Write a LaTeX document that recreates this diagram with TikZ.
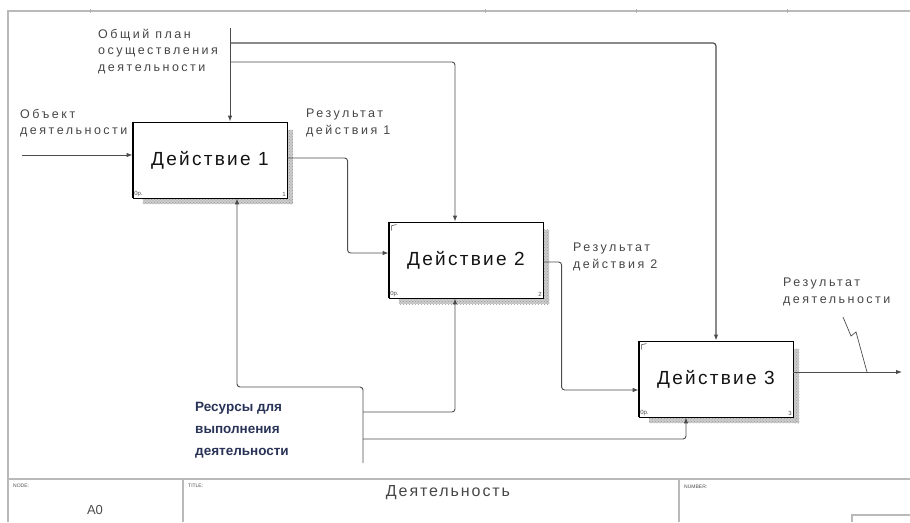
\documentclass[tikz,border=0pt]{standalone}
\usepackage{fontspec}
\setmainfont{Liberation Sans}
\newfontfamily\lblfont[LetterSpace=20]{Liberation Sans}
\newfontfamily\boxfont[LetterSpace=12]{Liberation Sans}
\newfontfamily\ttlfont[LetterSpace=12]{Liberation Sans}
\usetikzlibrary{arrows.meta,patterns,calc}
\definecolor{mechink}{rgb}{0.16,0.2,0.34}

\begin{document}
\begin{tikzpicture}[x=1pt,y=-1pt,
  frame/.style={draw=gray!55,line width=1.3pt},
  act/.style={draw=black,line width=0.8pt,fill=white,minimum width=154pt,minimum height=76pt,
    inner sep=0pt,font=\boxfont\fontsize{19}{21}\selectfont,text=gray!15!black},
  conn/.style={draw=gray!60!black,line width=0.9pt,rounded corners=3pt},
  arr/.style={conn,-{Latex[length=6pt,width=4.5pt]}},
  lbl/.style={font=\lblfont\fontsize{12.5}{16.5}\selectfont,text=gray!55!black,align=left,inner sep=0pt,anchor=north west},
  mech/.style={font=\bfseries\fontsize{13.5}{22}\selectfont,text=mechink,align=left,inner sep=0pt,anchor=north west},
  corner/.style={font=\fontsize{6}{7}\selectfont,text=gray!60!black,inner sep=1.5pt},
  foot/.style={font=\fontsize{5}{6}\selectfont,text=gray!60!black,inner sep=0pt,anchor=north west}
]
\useasboundingbox (0,0) rectangle (910,522);

% sheet frame and title block
\draw[frame] (8,522) -- (8,11) -- (910,11);
\foreach \t in {90,485,636,787} \draw[gray!60,line width=0.8pt] (\t,9) -- (\t,13);
\draw[frame] (8,479) -- (910,479);
\draw[frame] (183,479) -- (183,522);
\draw[frame] (679,479) -- (679,522);
\draw[frame] (852,522) -- (852,515) -- (910,515);

\node[foot] (fNode) at (13,484) {NODE:};
\node[foot] (fTitle) at (188,484) {TITLE:};
\node[foot] (fNum) at (684,485) {NUMBER:};
\node[font=\fontsize{13}{15}\selectfont,text=gray!60!black,inner sep=0pt] (fA0) at (95,510) {A0};
\node[font=\ttlfont\fontsize{16}{18}\selectfont,text=gray!55!black,inner sep=0pt] (fName) at (448,493) {Деятельность};

% activity boxes
\node[act] (box1) at (210,160) {Действие 1};
\node[act] (box2) at (466,260) {Действие 2};
\node[act] (box3) at (716,379) {Действие 3};

\foreach \b/\n in {box1/1,box2/2,box3/3}{
  % hatched shadow along the right and bottom sides
  \fill[gray!40] ($(\b.north east)+(1,8)$) rectangle ($(\b.south east)+(6,6)$);
  \fill[gray!40] ($(\b.south west)+(10,1)$) rectangle ($(\b.south east)+(6,6)$);
  \fill[pattern=crosshatch dots,pattern color=gray!80] ($(\b.north east)+(1,8)$) rectangle ($(\b.south east)+(6,6)$);
  \fill[pattern=crosshatch dots,pattern color=gray!80] ($(\b.south west)+(10,1)$) rectangle ($(\b.south east)+(6,6)$);
  \draw[black,line width=2pt] (\b.north west) -- (\b.south west);
  \node[corner,anchor=south west] at (\b.south west) {0р.};
  \node[corner,anchor=south east] at (\b.south east) {\n};
}
\draw[gray!60!black,line width=0.6pt] ($(box2.north west)+(3,9)$) -- ($(box2.north west)+(3,4)$) -- ($(box2.north west)+(8,3)$);
\draw[gray!60!black,line width=0.6pt] ($(box3.north west)+(3,9)$) -- ($(box3.north west)+(3,4)$) -- ($(box3.north west)+(8,3)$);

% input
\coordinate (inSrc) at (22,155);
\draw[arr] (inSrc) -- (inSrc -| box1.west);
\node[lbl] (lblIn) at (20,109) {Объект\\деятельности};

% control
\coordinate (ctlSrc) at (230,28);
\coordinate (ctlJ1) at (230,43);
\coordinate (ctlJ2) at (230,62);
\draw[arr] (ctlSrc) -- (ctlSrc |- box1.north);
\draw[arr,line width=1.2pt] (ctlJ1) -| (box3.north);
\draw[arr] (ctlJ2) -| ([xshift=-11pt]box2.north);
\node[lbl] (lblCtl) at (98,29) {Общий план\\осуществления\\деятельности};

% outputs
\coordinate (in2) at ([yshift=7pt]box2.west);
\draw[arr] ([yshift=2pt]box1.east) -| ([xshift=-41pt]in2) -- (in2);
\node[lbl] (lblOut1) at (306,109) {Результат\\действия 1};

\coordinate (in3) at ([yshift=-11pt]box3.west);
\draw[arr] ([yshift=-2pt]box2.east) -| ([xshift=-77pt]in3) -- (in3);
\node[lbl] (lblOut2) at (573,243) {Результат\\действия 2};

\coordinate (outEnd) at (902,372);
\draw[arr] (outEnd -| box3.east) -- (outEnd);
\node[lbl] (lblOut3) at (783,278) {Результат\\деятельности};
\coordinate (sqA) at (843,317);
\coordinate (sqB) at (867,372);
\draw[gray!60!black,line width=0.7pt] (sqA) -- ($(sqA)+(8,19)$) -- ($(sqA)+(13,15)$) -- (sqB);

% mechanism
\coordinate (mechSrc) at (363,463);
\coordinate (mJ0) at (363,387);
\coordinate (mJ1) at (363,412);
\coordinate (mJ2) at (363,439);
\draw[arr] (mechSrc) -- (mJ0) -| ([xshift=27pt]box1.south);
\draw[arr] (mJ1) -| ([xshift=-11pt]box2.south);
\draw[arr] (mJ2) -| ([xshift=-30pt]box3.south);
\node[mech] (lblMech) at (195,402) {Ресурсы для\\выполнения\\деятельности};
\end{tikzpicture}
\end{document}
